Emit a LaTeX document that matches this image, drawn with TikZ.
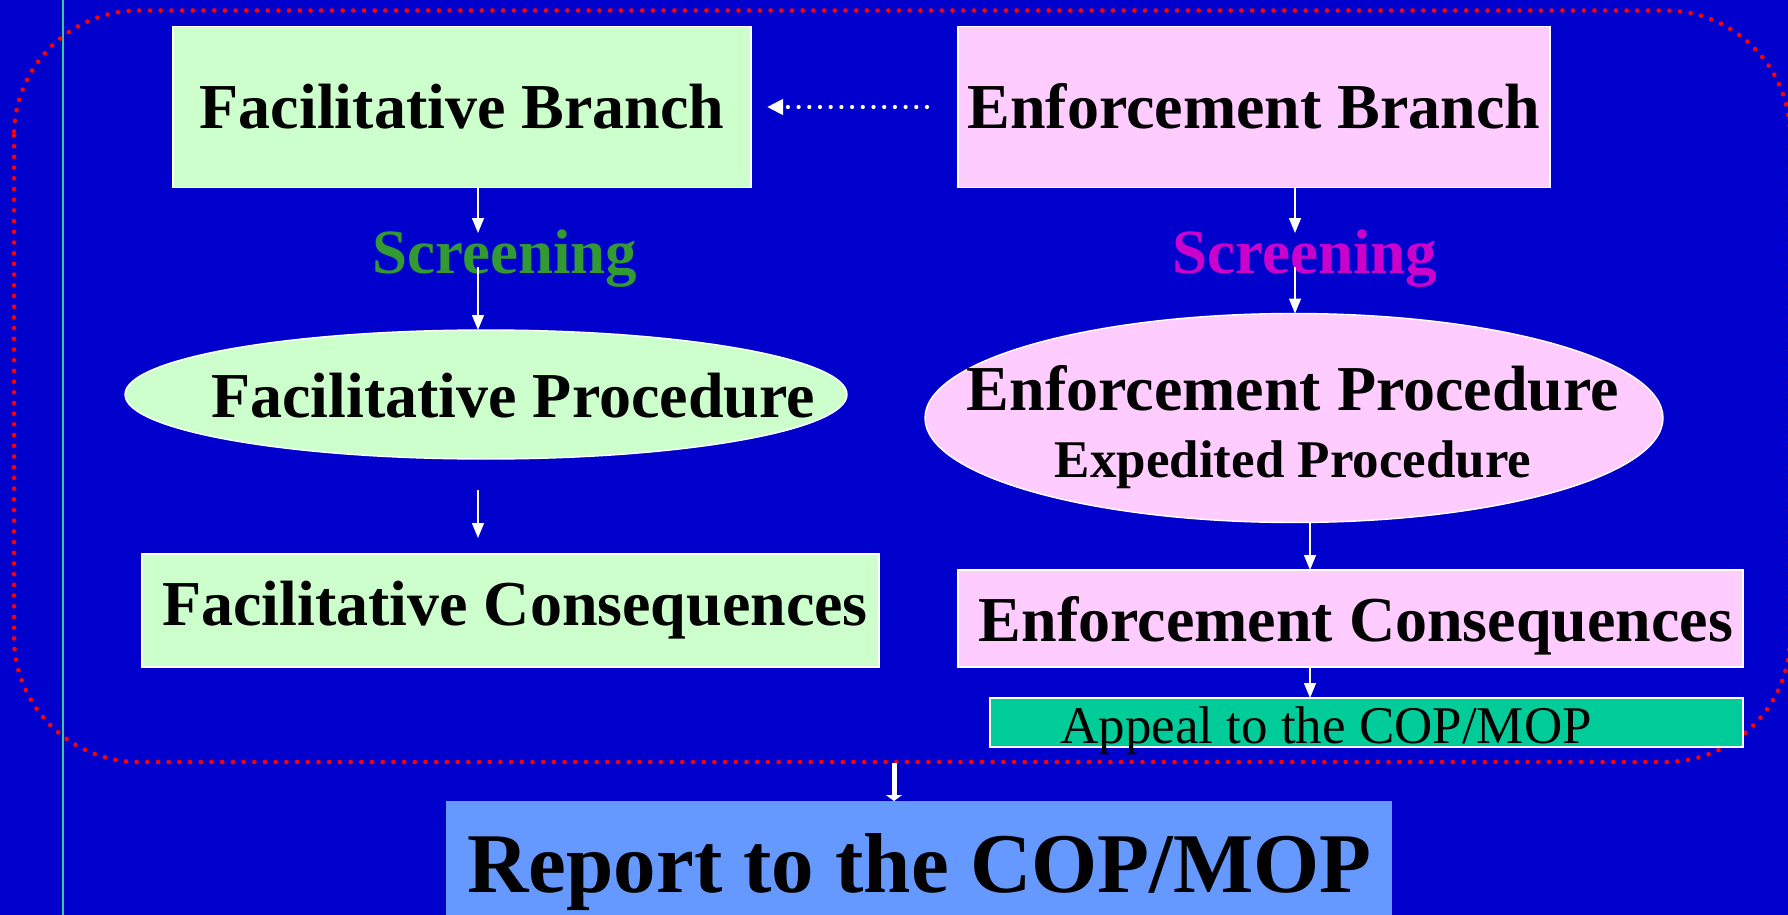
\documentclass[tikz,border=0pt]{standalone}
\usepackage{fontspec}
\setmainfont{Liberation Serif}
\usetikzlibrary{arrows.meta,shapes.geometric}
\definecolor{bg}{HTML}{0000CC}
\definecolor{lgreen}{HTML}{CCFFCC}
\definecolor{lpink}{HTML}{FFCCFF}
\definecolor{scrgreen}{HTML}{339933}
\definecolor{scrmag}{HTML}{CC00CC}
\definecolor{appealc}{HTML}{00CC99}
\definecolor{reportc}{HTML}{6699FF}
\definecolor{tealline}{HTML}{33CC99}
\begin{document}
\begin{tikzpicture}[x=0.5pt,y=-0.5pt,
 box/.style={draw=white, line width=0.7pt, inner sep=0pt, outer sep=0pt},
 lbl/.style={inner sep=0pt, outer sep=0pt, text depth=0pt},
 big/.style={lbl, font=\bfseries\fontsize{32}{38}\selectfont, text height=21.2pt},
 scr/.style={lbl, font=\bfseries\fontsize{31.5}{38}\selectfont, text height=20.85pt},
 mid/.style={lbl, font=\bfseries\fontsize{26.5}{32}\selectfont, text height=17.5pt},
 app/.style={lbl, font=\fontsize{26.5}{32}\selectfont, text height=17.5pt},
 rep/.style={lbl, font=\bfseries\fontsize{42.5}{50}\selectfont, text height=28.1pt},
 arr/.style={draw=white, line width=0.75pt, -{Triangle[length=7.5pt,width=6pt]}},
 dotarr/.style={draw=white, line width=2.1pt, line cap=round, dash pattern=on 0pt off 5.35pt, -{Triangle[length=8pt,width=7.5pt]}},
 reddots/.style={draw=red, line width=2.3pt, line cap=round, dash pattern=on 0pt off 5.35pt},
 fatarr/.style={draw=white, line width=2.5pt, -{Triangle[length=3pt,width=8pt]}}
]
\useasboundingbox (0,0) rectangle (1788,915);
\clip (0,0) rectangle (1788,915);
\fill[bg] (0,0) rectangle (1788,915);
\draw[tealline, line width=1.2pt] (63,0) -- (63,915);
\draw[reddots, rounded corners=62.5pt] (14,10.5) rectangle (1790,762);

% boxes
\node[box, big, fill=lgreen, minimum width=289pt, minimum height=80.5pt] (fb) at (462,107) {Facilitative Branch};
\node[box, big, fill=lpink, minimum width=296pt, minimum height=80.5pt] (eb) at (1254,107) {Enforcement Branch};

\node[scr, text=scrgreen] (fs) at (505,252.5) {Screening};
\node[scr, text=scrmag] (es) at (1305,252.5) {Screening};

\node[box, ellipse, fill=lgreen, minimum width=361pt, minimum height=64.5pt] (fp) at (486,394.5) {};
\node[big] (fpt) at (513,396.5) {Facilitative Procedure};

\node[box, ellipse, fill=lpink, minimum width=369pt, minimum height=104.5pt] (ep) at (1294,418) {};
\node[big] (ept) at (1293,389) {Enforcement Procedure};
\node[mid] (ept2) at (1293,459.5) {Expedited Procedure};

\node[box, fill=lgreen, minimum width=368.5pt, minimum height=56.5pt] (fc) at (510.5,610.5) {};
\node[big] (fct) at (515,604) {Facilitative Consequences};

\node[box, fill=lpink, minimum width=392.5pt, minimum height=48.5pt] (ec) at (1350.5,618.5) {};
\node[big] (ect) at (1356,620) {Enforcement Consequences};

\node[box, fill=appealc, minimum width=376.5pt, minimum height=24.5pt] (ap) at (1366.5,722.5) {};
\node[app] (apt) at (1326,726) {Appeal to the COP/MOP};

\node[fill=reportc, inner sep=0pt, outer sep=0pt, minimum width=473pt, minimum height=70pt] (rp) at (919,871) {};
\node[rep] (rpt) at (919.5,864) {Report to the COP/MOP};

% connectors
\coordinate (a1) at (478,233);
\coordinate (a2) at (478,267);
\coordinate (a3s) at (478,490);
\coordinate (a3e) at (478,538);
\draw[arr] (fb.south -| a1) -- (a1);
\draw[arr] (a2) -- (fp.north -| a2);
\draw[arr] (a3s) -- (a3e);

\coordinate (b1) at (1295,233);
\coordinate (b2) at (1295,267);
\coordinate (b3) at (1310,523);
\draw[arr] (eb.south -| b1) -- (b1);
\draw[arr] (b2) -- (ep.north -| b2);
\draw[arr] (b3) -- (ec.north -| b3);
\draw[arr] (ec.south -| b3) -- (ap.north -| b3);

\coordinate (c1) at (894,763);
\draw[fatarr] (c1) -- (rp.north -| c1);

\draw[dotarr, shorten <=15.5pt, shorten >=8pt] (eb.west) -- (fb.east |- eb.west);
\end{tikzpicture}
\end{document}
